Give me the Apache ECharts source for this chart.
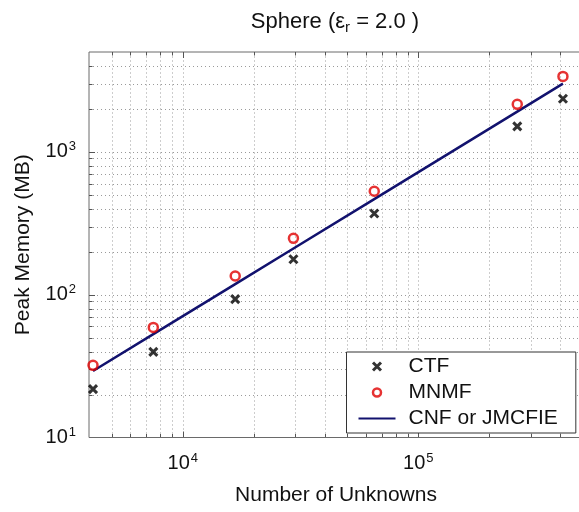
<!DOCTYPE html>
<html>
<head>
<meta charset="utf-8">
<script src="https://cdn.jsdelivr.net/npm/echarts@6/dist/echarts.min.js"></script>
<style>
  html, body { margin: 0; padding: 0; background: #fff; }
  #chart { width: 579px; height: 512px; }
</style>
</head>
<body>
<div id="chart"></div>
<script>
// Number of unknowns for each sphere mesh
const unknowns = [4160, 7500, 16700, 29500, 65000, 263000, 411000];
// Peak memory (MB) per formulation
const ctfMemory = [21.8, 39.8, 93, 177, 370, 1507, 2354];
const mnmfMemory = [32, 59, 135, 248, 530, 2150, 3375];
const cnfMemory = [29.2, 52.9, 118.4, 210.3, 466.6, 1911, 3000];

// Axis ranges
const xRange = [4000, 500000];
const yRange = [10, 5000];

const FONT = '"Liberation Sans", Arial, Helvetica, sans-serif';

function pairs(xs, ys) { return xs.map((x, i) => [x, ys[i]]); }

// Logarithmic grid values: 1..9 x 10^k inside a range
function logGrid(range) {
  const out = [];
  const k0 = Math.floor(Math.log10(range[0]));
  const k1 = Math.ceil(Math.log10(range[1]));
  for (let k = k0; k <= k1; k++) {
    for (let m = 1; m <= 9; m++) {
      const v = m * Math.pow(10, k);
      if (v > range[0] * 1.0001 && v < range[1] * 0.9999) out.push({ v, major: m === 1 });
    }
  }
  return out;
}

function decadeLabel(v) {
  const e = Math.log10(v);
  if (Math.abs(e - Math.round(e)) > 1e-6) return '';
  return '{b|10}{e|' + Math.round(e) + '}';
}

const labelRich = {
  b: { fontFamily: FONT, fontSize: 20, color: '#111' },
  e: { fontFamily: FONT, fontSize: 13, color: '#111', padding: [0, 0, 11, 1] }
};

const chart = echarts.init(document.getElementById('chart'), null, { renderer: 'canvas' });

// Dotted grid on every 1..9 x 10^k value plus inward ticks on the box edges
function renderGrid(params, api) {
  const children = [];
  const dotted = { stroke: '#9a9a9a', lineWidth: 1, lineDash: [1, 3], fill: null };
  const tickStyle = { stroke: '#555', lineWidth: 1, fill: null };
  logGrid(xRange).forEach(({ v, major }) => {
    const a = api.coord([v, yRange[0]]);
    const b = api.coord([v, yRange[1]]);
    const x = Math.round(a[0]) + 0.5;
    const len = major ? 6 : 3.5;
    children.push({ type: 'line', shape: { x1: x, y1: a[1], x2: x, y2: b[1] }, style: dotted, silent: true });
    children.push({ type: 'line', shape: { x1: x, y1: a[1], x2: x, y2: a[1] - len }, style: tickStyle, silent: true });
    children.push({ type: 'line', shape: { x1: x, y1: b[1], x2: x, y2: b[1] + len }, style: tickStyle, silent: true });
  });
  logGrid(yRange).forEach(({ v, major }) => {
    const a = api.coord([xRange[0], v]);
    const b = api.coord([xRange[1], v]);
    const y = Math.round(a[1]) + 0.5;
    const len = major ? 6 : 3.5;
    children.push({ type: 'line', shape: { x1: a[0], y1: y, x2: b[0], y2: y }, style: dotted, silent: true });
    children.push({ type: 'line', shape: { x1: a[0], y1: y, x2: a[0] + len, y2: y }, style: tickStyle, silent: true });
  });
  return { type: 'group', children };
}

const crossPath = 'path://M0,0L10,10M10,0L0,10';

const option = {
  animation: false,
  backgroundColor: '#fff',
  // plot box runs a few pixels past the right edge of the canvas
  grid: {
    left: 89, top: 52, width: 494, bottom: 74.5,
    outerBoundsMode: 'none', containLabel: false,
    show: true, borderColor: '#6a6a6a', borderWidth: 1, backgroundColor: 'transparent'
  },
  xAxis: {
    type: 'log', logBase: 10, min: xRange[0], max: xRange[1],
    name: 'Number of Unknowns', nameLocation: 'middle', nameGap: 47,
    nameTextStyle: { fontFamily: FONT, fontSize: 21, color: '#111' },
    axisLine: { show: false }, axisTick: { show: false }, splitLine: { show: false }, minorTick: { show: false },
    axisLabel: { formatter: decadeLabel, rich: labelRich, margin: 14, showMinLabel: false, showMaxLabel: false }
  },
  yAxis: {
    type: 'log', logBase: 10, min: yRange[0], max: yRange[1],
    name: 'Peak Memory (MB)', nameLocation: 'middle', nameGap: 55, nameRotate: 90,
    nameTextStyle: { fontFamily: FONT, fontSize: 21, color: '#111' },
    axisLine: { show: false }, axisTick: { show: false }, splitLine: { show: false },
    axisLabel: { formatter: decadeLabel, rich: labelRich, margin: 13, showMinLabel: true, showMaxLabel: false }
  },
  graphic: [{
    type: 'text', x: 335, y: 22, z: 10,
    style: {
      text: 'Sphere (ε{s|r} = 2.0 )',
      font: '22px ' + FONT, fill: '#111', textAlign: 'center', textVerticalAlign: 'middle',
      rich: { s: { fontFamily: FONT, fontSize: 15, padding: [11, 0, 0, 0], fill: '#111' } }
    }
  }],
  legend: {
    orient: 'vertical', left: 346.5, top: 352,
    padding: [4, 18, 4, 11], itemGap: 5, itemWidth: 37, itemHeight: 8,
    backgroundColor: '#fff', borderColor: '#333', borderWidth: 1, borderRadius: 0,
    textStyle: { fontFamily: FONT, fontSize: 21, color: '#111', padding: [0, 0, 0, 8] },
    data: [
      { name: 'CTF', icon: crossPath, itemStyle: { color: 'none', borderColor: '#000', borderWidth: 3 } },
      { name: 'MNMF', icon: 'circle', itemStyle: { color: 'none', borderColor: '#e00000', borderWidth: 2.5 } },
      { name: 'CNF or JMCFIE', itemStyle: { color: 'none', borderColor: 'none', borderWidth: 0, opacity: 0 } }
    ]
  },
  series: [
    {
      type: 'custom', name: 'grid', silent: true, z: 0,
      data: [[xRange[0], yRange[0]]], renderItem: renderGrid
    },
    {
      name: 'CTF', type: 'scatter', z: 3,
      symbol: crossPath, symbolSize: 8,
      itemStyle: { color: 'none', borderColor: '#000', borderWidth: 3 },
      data: pairs(unknowns, ctfMemory)
    },
    {
      name: 'MNMF', type: 'scatter', z: 3,
      symbol: 'circle', symbolSize: 9,
      itemStyle: { color: 'none', borderColor: '#e00000', borderWidth: 2.5 },
      data: pairs(unknowns, mnmfMemory)
    },
    {
      name: 'CNF or JMCFIE', type: 'line', z: 2,
      symbol: 'none', lineStyle: { color: '#12126e', width: 2.5 },
      data: pairs(unknowns, cnfMemory)
    }
  ]
};

chart.setOption(option);
</script>
</body>
</html>
